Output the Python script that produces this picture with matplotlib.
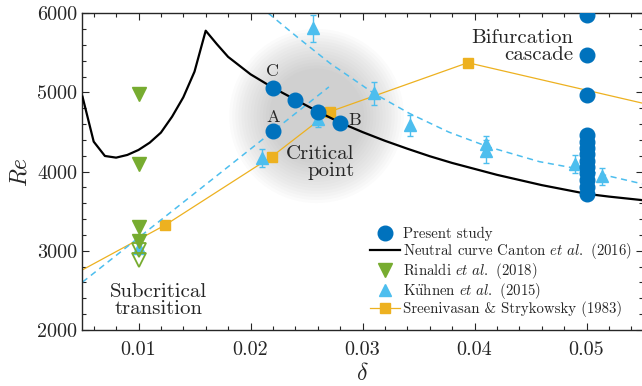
import numpy as np
import matplotlib
matplotlib.use("Agg")
import matplotlib.pyplot as plt
from matplotlib.lines import Line2D
from matplotlib.patches import Ellipse
from matplotlib.ticker import MultipleLocator

plt.rcParams["font.family"] = "cmr10"
plt.rcParams["mathtext.fontset"] = "cm"
plt.rcParams["axes.formatter.use_mathtext"] = True

BLUE = "#0072BD"
ORANGE = "#EDB120"
GREEN = "#77AC30"
LBLUE = "#4DBEEE"
TXT = "#262626"

# neutral curve, Canton et al. (2016)
delta_nc = [0.005, 0.006, 0.007, 0.008, 0.009, 0.010, 0.011, 0.012, 0.013, 0.014,
            0.015, 0.016, 0.017, 0.018, 0.020, 0.022, 0.024, 0.026, 0.028, 0.030,
            0.032, 0.034, 0.036, 0.038, 0.040, 0.042, 0.044, 0.046, 0.048, 0.050,
            0.052, 0.055]
re_nc = [4947, 4379, 4198, 4177, 4211, 4274, 4366, 4493, 4695, 4939,
         5263, 5780, 5610, 5450, 5230, 5060, 4910, 4760, 4620, 4500,
         4390, 4290, 4195, 4110, 4035, 3960, 3895, 3830, 3775, 3720,
         3685, 3640]

# present study
delta_ps = [0.022, 0.022, 0.024, 0.026, 0.028,
            0.050, 0.050, 0.050, 0.050, 0.050, 0.050, 0.050, 0.050, 0.050,
            0.050, 0.050, 0.050, 0.050]
re_ps = [4510, 5060, 4910, 4750, 4610,
         5975, 5470, 4965, 4460, 4380, 4300, 4220, 4140, 4060,
         3980, 3900, 3810, 3720]

# Rinaldi et al. (2018)
delta_rf = [0.010, 0.010, 0.010, 0.010]
re_rf = [4975, 4100, 3300, 3120]
delta_ro = [0.010, 0.010]
re_ro = [3010, 2885]

# Kuhnen et al. (2015)
delta_k = [0.010, 0.021, 0.0256, 0.026, 0.031, 0.0342, 0.041, 0.041, 0.049, 0.0514]
re_k = [3030, 4175, 5810, 4665, 4990, 4585, 4345, 4255, 4095, 3940]
err_k = [50, 115, 170, 100, 145, 135, 100, 140, 110, 110]
delta_kup = [0.005, 0.027]
re_kup = [2605, 5070]
delta_kdn = [0.0216, 0.0242, 0.0271, 0.031, 0.0342, 0.0377, 0.0412, 0.0458, 0.0491, 0.055]
re_kdn = [6000, 5697, 5369, 4990, 4735, 4500, 4315, 4126, 4040, 3845]

# Sreenivasan & Strykowsky (1983)
delta_ss = [0.005, 0.0124, 0.0219, 0.0271, 0.0394, 0.055]
re_ss = [2760, 3327, 4190, 4758, 5376, 4865]

fig = plt.figure(figsize=(6.42, 3.86), dpi=100)
ax = fig.add_axes([82.5 / 642, 56 / 386, 560 / 642, 316.7 / 386])

# blurry "critical point" region
cx, cy = 0.0259, 4703
rx, ry = 0.0078, 1100
for k in range(14):
    f = 1.0 - k * 0.035
    ax.add_patch(Ellipse((cx, cy), 2 * rx * f, 2 * ry * f, facecolor="0.55",
                         edgecolor="none", alpha=0.032, zorder=0))

ax.plot(delta_ss, re_ss, "-", color=ORANGE, lw=0.9, marker="s", ms=7.5,
        markevery=[1, 2, 3, 4], zorder=2)
ax.plot(delta_kup, re_kup, "--", color=LBLUE, lw=1.1, dashes=(4, 3), zorder=2)
ax.plot(delta_kdn, re_kdn, "--", color=LBLUE, lw=1.1, dashes=(4, 3), zorder=2)
ax.errorbar(delta_k, re_k, yerr=err_k, fmt="^", color=LBLUE, ms=9, capsize=2.5,
            elinewidth=1, capthick=1, zorder=3)
ax.plot(delta_rf, re_rf, "v", color=GREEN, ms=10, zorder=4)
ax.plot(delta_ro, re_ro, "v", mfc="none", mec=GREEN, mew=1.3, ms=10, zorder=4)
ax.plot(delta_nc, re_nc, "-", color="black", lw=1.6, zorder=5)
ax.plot(delta_ps, re_ps, "o", color=BLUE, ms=10.5, zorder=6)

ax.set_xlim(0.005, 0.055)
ax.set_ylim(2000, 6000)
ax.set_xticks([0.01, 0.02, 0.03, 0.04, 0.05])
ax.set_xticklabels(["0.01", "0.02", "0.03", "0.04", "0.05"])
ax.set_yticks([2000, 3000, 4000, 5000, 6000])
ax.set_yticklabels(["2000", "3000", "4000", "5000", "6000"])
ax.xaxis.set_minor_locator(MultipleLocator(0.002))
ax.yaxis.set_minor_locator(MultipleLocator(200))
ax.tick_params(which="both", direction="in", top=True, right=True, colors=TXT,
               labelsize=14.5, width=0.8)
ax.tick_params(which="major", length=5)
ax.tick_params(which="minor", length=3)
ax.tick_params(axis="x", pad=8)
ax.tick_params(axis="y", pad=4)
for s in ax.spines.values():
    s.set_color(TXT)
    s.set_linewidth(1.0)

ax.set_xlabel(r"$\delta$", fontsize=17, color=TXT, labelpad=3)
ax.set_ylabel(r"$Re$", fontsize=17, color=TXT, labelpad=4)

ax.text(0.022, 5265, "C", fontsize=13, ha="center", va="center", color=TXT)
ax.text(0.022, 4690, "A", fontsize=13, ha="center", va="center", color=TXT)
ax.text(0.0293, 4645, "B", fontsize=13, ha="center", va="center", color=TXT)
ax.text(0.0293, 4116, "Critical\npoint", fontsize=15, ha="right", va="center",
        multialignment="right", linespacing=0.95, color=TXT)
ax.text(0.0118, 2374, "Subcritical\ntransition", fontsize=15, ha="center",
        va="center", multialignment="center", linespacing=0.95, color=TXT)
ax.text(0.0488, 5581, "Bifurcation\ncascade", fontsize=15, ha="right",
        va="center", multialignment="right", linespacing=0.95, color=TXT)

handles = [
    Line2D([], [], ls="none", marker="o", color=BLUE, ms=10.5),
    Line2D([], [], color="black", lw=1.6),
    Line2D([], [], ls="none", marker="v", color=GREEN, ms=10),
    Line2D([], [], ls="none", marker="^", color=LBLUE, ms=9),
    Line2D([], [], color=ORANGE, lw=0.9, marker="s", ms=7.5),
]
labels = [
    "Present study",
    r"Neutral curve Canton $\it{et\ al.}$ (2016)",
    r"Rinaldi $\it{et\ al.}$ (2018)",
    r"K$\mathrm{\ddot{u}}$hnen $\it{et\ al.}$ (2015)",
    "Sreenivasan & Strykowsky (1983)",
]
leg = ax.legend(handles, labels, loc="upper left", frameon=False,
                bbox_to_anchor=(370 / 642, 1 - 227 / 386),
                bbox_transform=fig.transFigure, fontsize=10.7,
                handlelength=2.0, handletextpad=0.25, labelspacing=0.0,
                borderpad=0, borderaxespad=0)
for t in leg.get_texts():
    t.set_color(TXT)

fig.savefig("out.png", dpi=100)
